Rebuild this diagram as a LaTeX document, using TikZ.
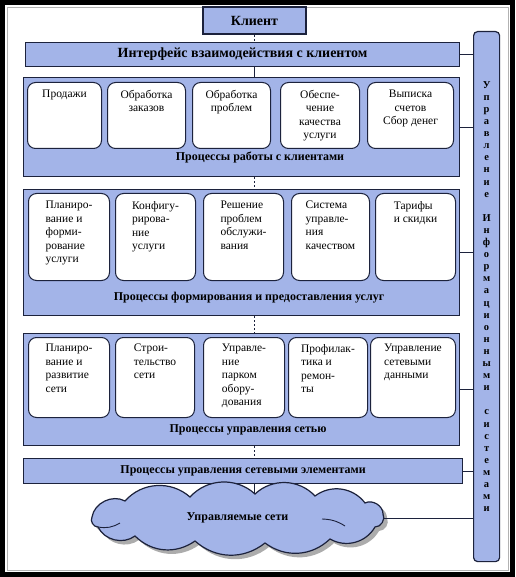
\documentclass[tikz,border=0pt]{standalone}
\usepackage{fontspec}
\setmainfont{Liberation Serif}
\usetikzlibrary{positioning}
\definecolor{paneblue}{RGB}{163,180,232}
\definecolor{edgeblue}{RGB}{28,34,60}

\begin{document}
\begin{tikzpicture}[x=1pt,y=-1pt]
  \tikzset{panel/.style={draw=edgeblue,fill=paneblue,line width=1.2pt,inner sep=0pt,anchor=north west},
    procbox/.style={draw=edgeblue,fill=white,line width=1pt,rounded corners=8pt,inner sep=0pt,anchor=north west},
    boxtext/.style={inner sep=0pt,font=\fontsize{11.5}{13.5}\selectfont},
    plabel/.style={inner sep=0pt,font=\bfseries\fontsize{12}{13}\selectfont},
    link/.style={draw=edgeblue,line width=1pt},
    dashlink/.style={link,dash pattern=on 2pt off 2pt}}
  % frame
  \fill[black] (0,0) rectangle (515,577);
  \fill[white] (5,5) rectangle (510,572);
  \draw[gray!60] (7,7) rectangle (508,570);

  % top
  \node[panel,anchor=center,minimum width=103,minimum height=27,font=\bfseries\fontsize{14}{15}\selectfont] (client) at (254.5,20.5) {Клиент};
  \node[panel,minimum width=434,minimum height=24,font=\bfseries\fontsize{14}{15}\selectfont] (iface) at (25,42) {Интерфейс взаимодействия с клиентом};

  % vertical bar
  \node[panel,anchor=north west,rounded corners=4pt,minimum width=26,minimum height=530,align=center,
    font=\bfseries\fontsize{10.5}{12.1}\selectfont] (mgmt) at (473,31)
    {У\\п\\р\\а\\в\\л\\е\\н\\и\\е\\[12.1pt]И\\н\\ф\\о\\р\\м\\а\\ц\\и\\о\\н\\н\\ы\\м\\и\\[12.1pt]с\\и\\с\\т\\е\\м\\а\\м\\и};

  % panel 1
  \node[panel,minimum width=436,minimum height=99] (pA) at (23,77) {};
  \foreach \x/\w/\t in {27/74/{Продажи},107/78/{Обработка\\заказов},192/78/{Обработка\\проблем},
      280/79/{Обеспе-\\чение\\качества\\услуги},367/86/{Выписка\\счетов\\Сбор денег}}
  {
    \node[procbox,minimum width=\w,minimum height=66] (a\x) at (\x,82) {};
    \node[boxtext,align=center,below=8pt of a\x.north] {\t};
  }
  \node[plabel] at (260,157) {Процессы работы с клиентами};

  % panel 2
  \node[panel,minimum width=436,minimum height=126] (pB) at (23,189) {};
  \foreach \x/\w/\t in {28/81/{Планиро-\\вание и\\форми-\\рование\\услуги},115/80/{Конфигу-\\рирова-\\ние\\услуги},
      203/80/{Решение\\проблем\\обслужи-\\вания},291/78/{Система\\управле-\\ния\\качеством},375/80/{Тарифы\\и скидки}}
  {
    \node[procbox,minimum width=\w,minimum height=87] (b\x) at (\x,193) {};
    \node[boxtext,align=left,below=8pt of b\x.north] {\t};
  }
  \node[plabel] at (249,298) {Процессы формирования и предоставления услуг};

  % panel 3
  \node[panel,minimum width=436,minimum height=112] (pC) at (23,333) {};
  \foreach \x/\w/\t in {28/81/{Планиро-\\вание и\\развитие\\сети},115/79/{Строи-\\тельство\\сети},
      203/81/{Управле-\\ние\\парком\\обору-\\дования},288/79/{Профилак-\\тика и\\ремон-\\ты},370/85/{Управление\\сетевыми\\данными}}
  {
    \node[procbox,minimum width=\w,minimum height=80] (c\x) at (\x,337) {};
    \node[boxtext,align=left,below=7pt of c\x.north] {\t};
  }
  \node[plabel] at (248,430) {Процессы управления сетью};

  % panel 4
  \node[panel,minimum width=439,minimum height=25,font=\bfseries\fontsize{12}{13}\selectfont] (pD) at (23,458) {Процессы управления сетевыми элементами};

  % cloud, shadow first
  \foreach \s/\f/\d in {4/gray!65/none,0/paneblue/edgeblue}
  {
    \begin{scope}[shift={(\s,\s)}]
      \filldraw[fill=\f,draw=\d,line width=1.2pt]
        (92,517) to[bend left=55] (125,501) to[bend left=45] (190,497) to[bend left=45] (255,494)
        to[bend left=45] (315,496) to[bend left=45] (365,503) to[bend left=60] (383,514)
        to[bend left=60] (375,527) to[bend left=45] (330,539) to[bend left=40] (265,543)
        to[bend left=40] (195,541) to[bend left=40] (135,536) to[bend left=50] (98,527)
        to[bend left=60] cycle;
    \end{scope}
  }
  \draw[edgeblue,line width=0.9pt] (98,527) to[bend right=20] (120,523);
  \draw[edgeblue,line width=0.9pt] (322,519) to[bend left=15] (345,526);
  \node[minimum width=291,minimum height=48,inner sep=0pt,font=\bfseries\fontsize{12}{13}\selectfont] (net) at (237.5,518) {Управляемые сети};

  % vertical links
  \draw[dashlink] (client.south) -- (client.south |- iface.north);
  \draw[link] (iface.south -| client) -- (pA.north -| client);
  \draw[dashlink] (pA.south -| client) -- (pB.north -| client);
  \draw[dashlink] (pB.south -| client) -- (pC.north -| client);
  \draw[dashlink] (pC.south -| client) -- (pD.north -| client);
  \draw[link] (pD.south -| client) -- (net.north -| client);

  % links to the bar
  \foreach \n in {iface,pA,pB,pC,pD,net}
    \draw[link] (\n.east) -- (\n.east -| mgmt.west);
\end{tikzpicture}
\end{document}
